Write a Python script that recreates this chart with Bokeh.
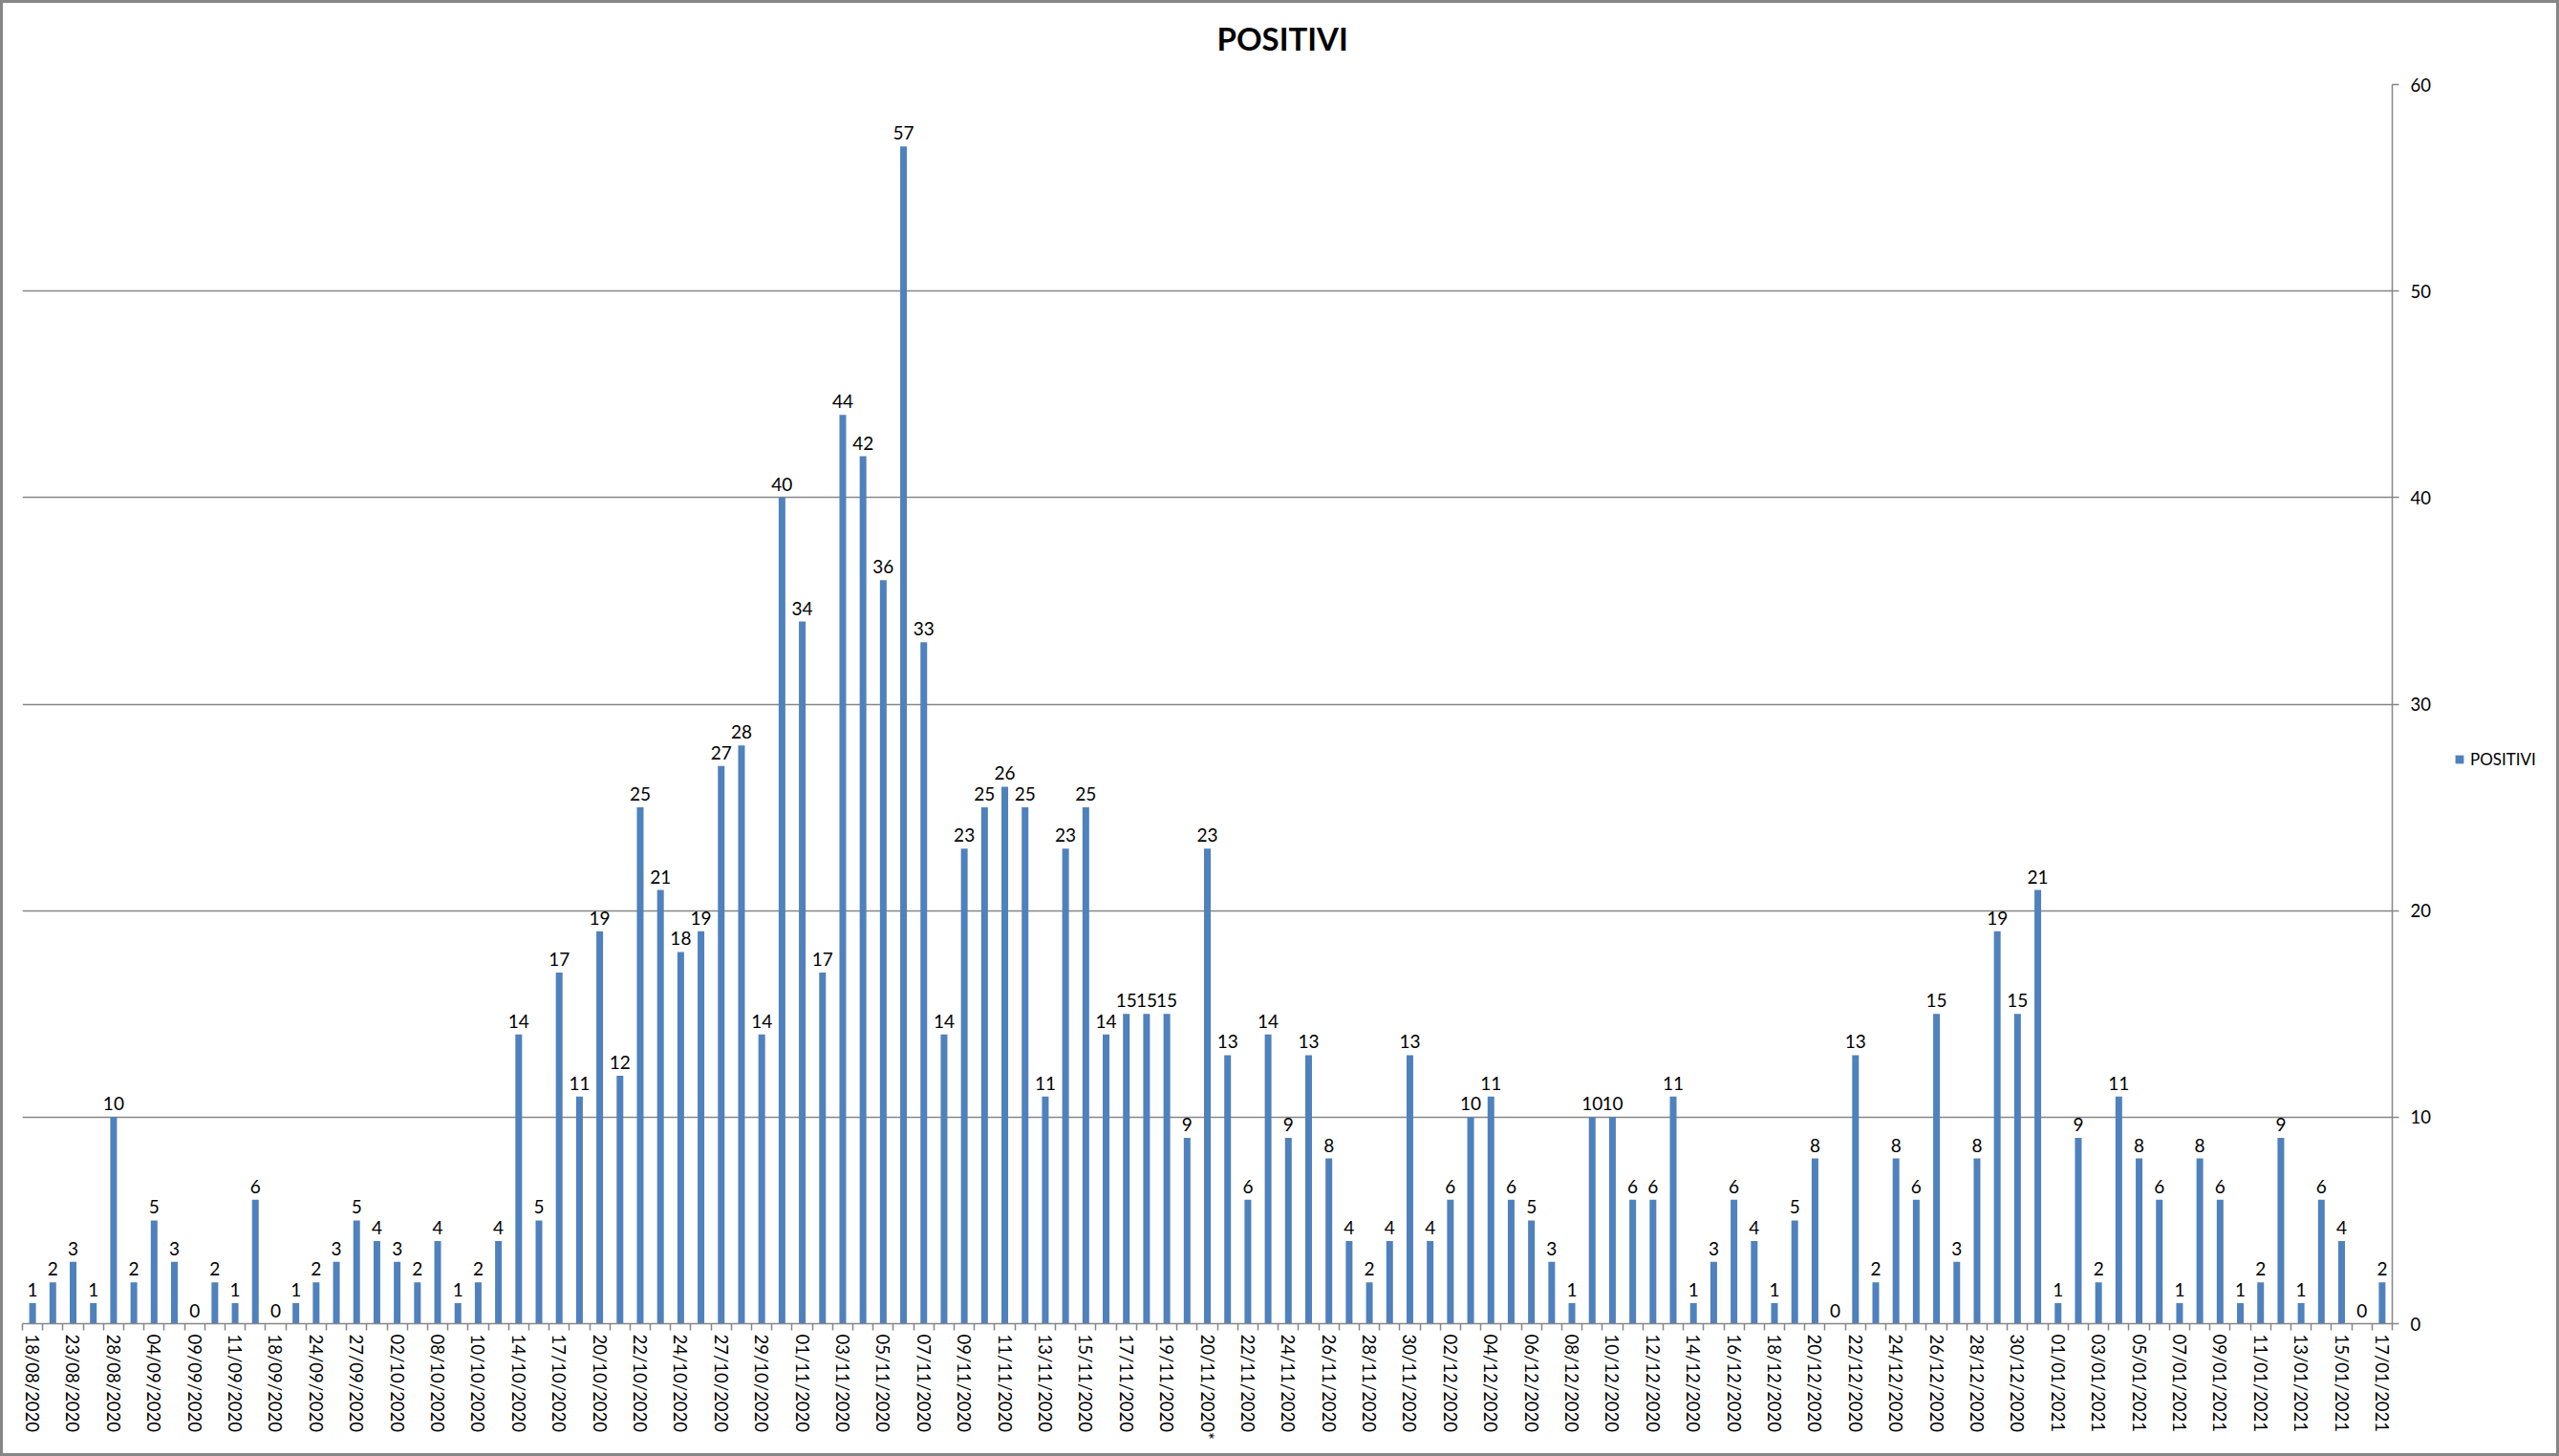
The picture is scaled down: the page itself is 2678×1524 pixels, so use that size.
from bokeh.plotting import figure
from bokeh.layouts import row
from bokeh.models import (ColumnDataSource, Range1d, FixedTicker, Title,
                          Legend, LegendItem, InlineStyleSheet)
from bokeh.core.properties import value
from bokeh.embed import file_html
from bokeh.resources import INLINE

# ---------------- data ----------------
series_name = "POSITIVI"
chart_title = "POSITIVI"

positivi = [
    1, 2, 3, 1, 10, 2, 5, 3, 0, 2,
    1, 6, 0, 1, 2, 3, 5, 4, 3, 2,
    4, 1, 2, 4, 14, 5, 17, 11, 19, 12,
    25, 21, 18, 19, 27, 28, 14, 40, 34, 17,
    44, 42, 36, 57, 33, 14, 23, 25, 26, 25,
    11, 23, 25, 14, 15, 15, 15, 9, 23, 13,
    6, 14, 9, 13, 8, 4, 2, 4, 13, 4,
    6, 10, 11, 6, 5, 3, 1, 10, 10, 6,
    6, 11, 1, 3, 6, 4, 1, 5, 8, 0,
    13, 2, 8, 6, 15, 3, 8, 19, 15, 21,
    1, 9, 2, 11, 8, 6, 1, 8, 6, 1,
    2, 9, 1, 6, 4, 0, 2,
]

# labels shown on the category axis (every second bar, starting with the first)
tick_labels = [
    "18/08/2020", "23/08/2020", "28/08/2020", "04/09/2020", "09/09/2020",
    "11/09/2020", "18/09/2020", "24/09/2020", "27/09/2020", "02/10/2020",
    "08/10/2020", "10/10/2020", "14/10/2020", "17/10/2020", "20/10/2020",
    "22/10/2020", "24/10/2020", "27/10/2020", "29/10/2020", "01/11/2020",
    "03/11/2020", "05/11/2020", "07/11/2020", "09/11/2020", "11/11/2020",
    "13/11/2020", "15/11/2020", "17/11/2020", "19/11/2020", "20/11/2020*",
    "22/11/2020", "24/11/2020", "26/11/2020", "28/11/2020", "30/11/2020",
    "02/12/2020", "04/12/2020", "06/12/2020", "08/12/2020", "10/12/2020",
    "12/12/2020", "14/12/2020", "16/12/2020", "18/12/2020", "20/12/2020",
    "22/12/2020", "24/12/2020", "26/12/2020", "28/12/2020", "30/12/2020",
    "01/01/2021", "03/01/2021", "05/01/2021", "07/01/2021", "09/01/2021",
    "11/01/2021", "13/01/2021", "15/01/2021", "17/01/2021",
]

y_ticks = [0, 10, 20, 30, 40, 50, 60]

# ---------------- styles ----------------
BAR = "#4F81BD"
GRAY = "#868686"
FONT = "Lato"

n = len(positivi)
xs = list(range(n))
source = ColumnDataSource(dict(x=xs, y=positivi, lbl=[str(v) for v in positivi]))

# ---------------- main chart ----------------
p = figure(width=2563, height=1524,
           x_range=Range1d(-0.5, n - 0.5), y_range=Range1d(y_ticks[0], y_ticks[-1]),
           y_axis_location="right",
           output_backend="svg", toolbar_location=None,
           min_border_left=23, min_border_right=60,
           min_border_top=88, min_border_bottom=139,
           background_fill_color="white", border_fill_color="white",
           outline_line_color=None)

bars = p.vbar(x="x", top="y", width=0.33, source=source,
              fill_color=BAR, line_color=None)

p.text(x="x", y="y", text="lbl", source=source,
       text_font=value(FONT), text_font_size="19px", text_color="#000000",
       text_align="center", text_baseline="alphabetic", y_offset=-14)

# x axis
xa = p.xaxis[0]
label_pos = list(range(0, n, 2))
xa.ticker = FixedTicker(ticks=label_pos, minor_ticks=[i - 0.5 for i in range(n + 1)])
xa.major_label_overrides = {i: lab for i, lab in zip(label_pos, tick_labels)}
xa.major_label_orientation = "vertical"
xa.major_tick_out = 0
xa.major_tick_in = 0
xa.minor_tick_out = 7
xa.minor_tick_in = 0
xa.minor_tick_line_color = GRAY
xa.minor_tick_line_width = 1.5
xa.axis_line_color = GRAY
xa.axis_line_width = 1.5
xa.major_label_standoff = 4
xa.major_label_text_font = FONT
xa.major_label_text_font_size = "18.5px"
xa.major_label_text_color = "#000000"

# y axis (right)
ya = p.yaxis[0]
ya.ticker = FixedTicker(ticks=y_ticks)
ya.major_tick_out = 7
ya.major_tick_in = 0
ya.minor_tick_line_color = None
ya.major_tick_line_color = GRAY
ya.major_tick_line_width = 1.5
ya.axis_line_color = GRAY
ya.axis_line_width = 1.5
ya.major_label_standoff = 12
ya.major_label_text_font = FONT
ya.major_label_text_font_size = "18.5px"
ya.major_label_text_color = "#000000"

p.xgrid.visible = False
p.ygrid.grid_line_color = GRAY
p.ygrid.grid_line_width = 1.5

# titles (above panel): a blank spacer nearest the frame, then the chart title
spacer = Title(text=" ", text_font=FONT, text_font_size="14px", standoff=5)
main_title = Title(text=chart_title, align="left", offset=1250,
                   text_font=FONT, text_font_style="bold", text_font_size="33px",
                   text_color="#000000", standoff=10)
p.add_layout(spacer, "above")
p.add_layout(main_title, "above")

# ---------------- legend strip (right of the chart) ----------------
# same series drawn in a narrow plot whose ranges keep the bars out of view;
# it only serves as the legend's glyph source
q = figure(width=2678 - 2563, height=1524,
           x_range=Range1d(-3, -2), y_range=Range1d(0, 1),
           x_axis_location=None, y_axis_location=None,
           output_backend="svg", toolbar_location=None,
           min_border=0, min_border_left=0, min_border_right=0,
           min_border_top=0, min_border_bottom=0,
           background_fill_color="white", border_fill_color="white",
           outline_line_color=None)
q.xgrid.visible = False
q.ygrid.visible = False
legend_bar = q.vbar(x="x", top="y", width=0.33, source=source,
                    fill_color=BAR, line_color=None)

legend = Legend(items=[LegendItem(label=series_name, renderers=[legend_bar])],
                location=(5, 580), orientation="vertical",
                glyph_width=11, glyph_height=11, label_standoff=6,
                label_height=20, padding=0, margin=0, spacing=0,
                border_line_color=None, background_fill_alpha=0,
                label_text_font=FONT, label_text_font_size="17px",
                label_text_color="#000000")
q.add_layout(legend)

layout = row(p, q, spacing=0)
layout.stylesheets = [InlineStyleSheet(css=(
    ":host { position: relative; }"
    ":host::after { content: ''; position: absolute; left: 0; top: 0; right: 0; bottom: 0;"
    " box-sizing: border-box; border: 3px solid #868686; pointer-events: none; z-index: 100; }"
))]

open("out.html", "w").write(file_html(layout, INLINE))
